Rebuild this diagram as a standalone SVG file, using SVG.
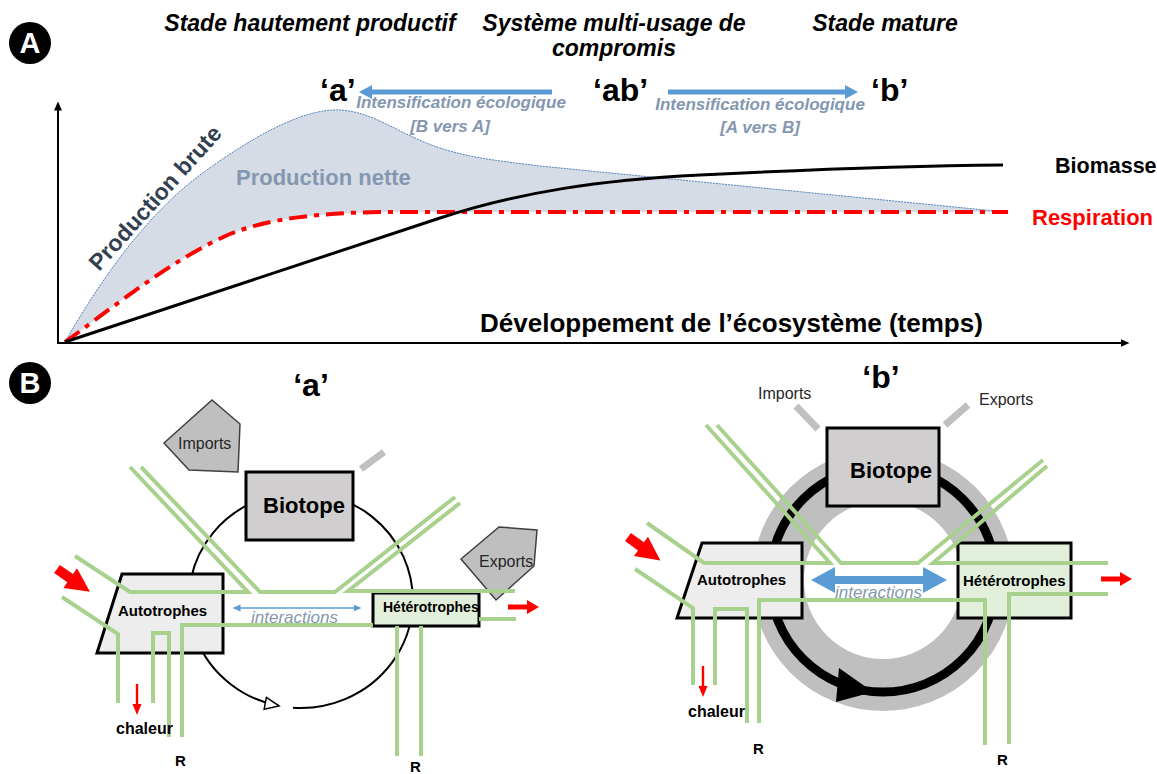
<svg xmlns="http://www.w3.org/2000/svg" width="1157" height="774" viewBox="0 0 1157 774">
<defs>
<style>
text { font-family: "Liberation Sans", Arial, sans-serif; }
.bd { font-weight: bold; }
.hdr { font-size: 23px; font-weight: bold; font-style: italic; fill: #000; }
.q { font-size: 32px; font-weight: bold; fill: #000; }
.intens { font-size: 17px; font-weight: bold; font-style: italic; fill: #8497b0; }
.g { fill: none; stroke: #a9d18e; stroke-width: 4; }
.box { stroke: #000; stroke-width: 3; }
.pent { fill: #bfbfbf; stroke: #404040; stroke-width: 1.5; }
.stub { stroke: #c0c0c0; stroke-width: 7; }
.red { fill: #ff0000; }
.lbl { font-size: 16px; fill: #262626; }
.inter { font-size: 17px; font-style: italic; fill: #8497b0; }
.blk { font-weight: bold; fill: #000; }
</style>
<marker id="axArr" markerUnits="userSpaceOnUse" markerWidth="10" markerHeight="8" refX="0.5" refY="4" orient="auto"><path d="M0,0 L9,4 L0,8 z" fill="#000"/></marker>
<marker id="bArr" markerUnits="userSpaceOnUse" markerWidth="14" markerHeight="14" refX="1" refY="7" orient="auto"><path d="M0,0 L13,7 L0,14 z" fill="#5b9bd5"/></marker>
<marker id="tArr" markerUnits="userSpaceOnUse" markerWidth="9" markerHeight="8" refX="0.5" refY="4" orient="auto-start-reverse"><path d="M0,0.5 L8,4 L0,7.5 z" fill="#5b9bd5"/></marker>
<marker id="openArr" markerUnits="userSpaceOnUse" markerWidth="18" markerHeight="16" refX="15" refY="7" orient="auto"><path d="M1,1 L15,7 L1,13 z" fill="#fff" stroke="#000" stroke-width="1.5"/></marker>
<path id="bigArr" d="M0,-5 L16,-5 L16,-12 L40,0 L16,12 L16,5 L0,5 z"/>
<path id="smArr" d="M0,-2.5 L19,-2.5 L19,-7 L31,0 L19,7 L19,2.5 L0,2.5 z"/>
<path id="downArr" d="M-1.2,0 L1.2,0 L1.2,20 L4.5,20 L0,31 L-4.5,20 L-1.2,20 z"/>
</defs>

<!-- ===== Panel A ===== -->
<g id="badgeA"><circle cx="30" cy="43" r="21" fill="#000"/><text x="30" y="53" font-size="29" class="bd" fill="#fff" text-anchor="middle">A</text></g>

<g id="headers">
<text x="310" y="31" class="hdr" text-anchor="middle">Stade hautement productif</text>
<text x="614" y="31" class="hdr" text-anchor="middle">Système multi-usage de</text>
<text x="614" y="56" class="hdr" text-anchor="middle">compromis</text>
<text x="885" y="31" class="hdr" text-anchor="middle">Stade mature</text>
</g>

<g id="chart">
<path d="M65,342 C95,290 140,220 200,175 C245,142 300,108 340,110 C375,112 400,135 440,148 C470,158 500,161 540,166 L1005,212 L380,212 C320,213 270,218 230,234 C170,260 110,310 65,342 Z" fill="#d6dce5"/>
<path d="M65,342 C95,290 140,220 200,175 C245,142 300,108 340,110 C375,112 400,135 440,148 C470,158 500,161 540,166 L1005,212" fill="none" stroke="#4f81bd" stroke-width="1" stroke-dasharray="2 1"/>
<path d="M65,342 C110,310 170,260 230,234 C270,218 320,213 380,212 L1008,212" fill="none" stroke="#ff0000" stroke-width="4" stroke-dasharray="18 7 5 7"/>
<path d="M65,342 L440,218 C520,192 600,180 700,175 C800,170 900,166 1003,165" fill="none" stroke="#000" stroke-width="3"/>
</g>

<g id="axes">
<line x1="58" y1="344" x2="58" y2="110" stroke="#000" stroke-width="2" marker-end="url(#axArr)"/>
<line x1="57" y1="343" x2="1121" y2="343" stroke="#000" stroke-width="2" marker-end="url(#axArr)"/>
</g>

<g id="chartLabels">
<text transform="translate(99,272) rotate(-48)" font-size="23" class="bd" fill="#333f50">Production brute</text>
<text x="236" y="185" font-size="22" class="bd" fill="#8497b0">Production nette</text>
<text x="1055" y="173" font-size="21.5" class="blk">Biomasse</text>
<text x="1032" y="225" font-size="22" class="bd" fill="#ff0000">Respiration</text>
<text x="480" y="332" font-size="26" class="blk">Développement de l’écosystème (temps)</text>
</g>

<g id="stages">
<text x="320" y="101" class="q">‘a’</text>
<text x="593" y="101" class="q">‘ab’</text>
<text x="871" y="101" class="q">‘b’</text>
<line x1="552" y1="92" x2="371" y2="92" stroke="#5b9bd5" stroke-width="5" marker-end="url(#bArr)"/>
<line x1="668" y1="92" x2="846" y2="92" stroke="#5b9bd5" stroke-width="5" marker-end="url(#bArr)"/>
<text x="461" y="108" class="intens" text-anchor="middle">Intensification écologique</text>
<text x="450" y="132" class="intens" text-anchor="middle">[B vers A]</text>
<text x="760" y="110" class="intens" text-anchor="middle">Intensification écologique</text>
<text x="760" y="133" class="intens" text-anchor="middle">[A vers B]</text>
</g>

<!-- ===== Panel B ===== -->
<g id="badgeB"><circle cx="30" cy="383" r="21" fill="#000"/><text x="30" y="393" font-size="29" class="bd" fill="#fff" text-anchor="middle">B</text></g>
<text x="311" y="396" class="q" text-anchor="middle">‘a’</text>
<text x="881" y="388" class="q" text-anchor="middle">‘b’</text>

<!-- left diagram 'a' -->
<g id="cycleA">
<path d="M293,707.7 A112,108 0 1 0 279,705.9" fill="none" stroke="#000" stroke-width="2" marker-end="url(#openArr)"/>
</g>
<g id="importsA"><polygon class="pent" points="164,443 212,400 240,424 238,472 189,470"/><text x="178" y="449" class="lbl">Imports</text></g>
<g id="exportsA"><polygon class="pent" points="461,559 499,527 537,530 534,566 496,600"/><text x="479" y="567" class="lbl">Exports</text></g>
<g id="biotopeA"><rect x="246" y="472" width="107" height="68" fill="#d0cece" class="box"/><text x="263" y="513" font-size="22" class="blk">Biotope</text></g>
<g id="autoA"><polygon points="122,574 223,574 223,653 97,653" fill="#ededed" class="box"/><text x="118" y="616" font-size="15" class="blk">Autotrophes</text></g>
<g id="heteroA"><rect x="373" y="593" width="106" height="33" fill="#e2efda" class="box"/><text x="383" y="612" font-size="14" class="blk">Hétérotrophes</text></g>

<g id="connectorsA">
<line class="stub" x1="361" y1="469" x2="384" y2="452"/>
<polyline class="g" points="75,556 130,592 248,592 130,467"/>
<polyline class="g" points="141,467 260,592 335,592 455,497"/>
<polyline class="g" points="460,503 348,591 515,591"/>
<polyline class="g" points="62,597 118,634 118,703"/>
<polyline class="g" points="153,703 153,633 169,633 169,737"/>
<polyline class="g" points="182,737 182,625 373,625"/>
<line class="g" x1="479" y1="619" x2="516" y2="619"/>
<line class="g" x1="397" y1="626" x2="397" y2="756"/>
<line class="g" x1="421" y1="626" x2="421" y2="756"/>
<line x1="240" y1="608" x2="354" y2="608" stroke="#5b9bd5" stroke-width="1.5" marker-start="url(#tArr)" marker-end="url(#tArr)"/>
<use href="#bigArr" class="red" transform="translate(57,569) rotate(34.5)"/>
<use href="#downArr" class="red" transform="translate(137,684)"/>
<use href="#smArr" class="red" transform="translate(508,607)"/>
</g>
<g id="labelsA">
<text x="251" y="623" class="inter">interactions</text>
<text x="116" y="734" font-size="16" class="blk">chaleur</text>
<text x="175" y="766" font-size="15" class="blk">R</text>
<text x="410" y="772" font-size="15" class="blk">R</text>
</g>

<!-- right diagram 'b' -->
<g id="cycleB">
<circle cx="883" cy="580" r="105" fill="none" stroke="#bfbfbf" stroke-width="52"/>
<circle cx="883" cy="579" r="113" fill="none" stroke="#000" stroke-width="9"/>
<polygon points="839,668 873,692 836,702" fill="#000"/>
</g>
<g id="biotopeB"><rect x="827" y="428" width="112" height="78" fill="#d0cece" class="box"/><text x="850" y="478" font-size="22" class="blk">Biotope</text></g>
<g id="autoB"><polygon points="702,543 802,543 802,618 677,618" fill="#ededed" class="box"/><text x="697" y="585" font-size="15" class="blk">Autotrophes</text></g>
<g id="heteroB"><rect x="958" y="543" width="113" height="75" fill="#e2efda" class="box"/><text x="963" y="586" font-size="15" class="blk">Hétérotrophes</text></g>
<g id="importsB"><text x="758" y="399" class="lbl">Imports</text></g>
<g id="exportsB"><text x="979" y="405" class="lbl">Exports</text></g>

<g id="connectorsB">
<line class="stub" x1="796" y1="406" x2="818" y2="429"/>
<line class="stub" x1="945" y1="425" x2="968" y2="405"/>
<polyline class="g" points="647,523 704,563 830,563 706,425"/>
<polyline class="g" points="717,425 841,563 918,563 1043,460"/>
<polyline class="g" points="1047,466 933,563 1108,563"/>
<polyline class="g" points="635,569 693,608 693,685"/>
<polyline class="g" points="715,685 715,609 747,609 747,723"/>
<polyline class="g" points="759,723 759,600 985,600 985,745"/>
<polyline class="g" points="1108,594 1009,594 1009,744"/>
<polygon points="811,580 835,567 835,576 923,576 923,567 947,580 923,593 923,584 835,584 835,593" fill="#5b9bd5"/>
<use href="#bigArr" class="red" transform="translate(628,537) rotate(36)"/>
<use href="#downArr" class="red" transform="translate(703,666)"/>
<use href="#smArr" class="red" transform="translate(1101,579)"/>
</g>
<g id="labelsB">
<text x="835" y="598" class="inter">interactions</text>
<text x="688" y="717" font-size="16" class="blk">chaleur</text>
<text x="753" y="754" font-size="15" class="blk">R</text>
<text x="997" y="765" font-size="15" class="blk">R</text>
</g>
</svg>
